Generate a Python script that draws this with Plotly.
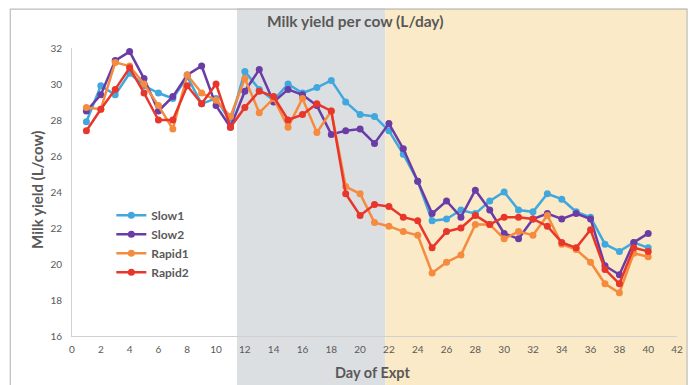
import plotly.graph_objects as go

days = list(range(1, 41))

slow1 = [27.9, 29.9, 29.4, 30.6, 29.9, 29.5, 29.2, 30.4, 28.9, 29.2,
         27.9, 30.7, 29.7, 29.1, 30.0, 29.5, 29.8, 30.2, 29.0, 28.3,
         28.2, 27.4, 26.1, 24.6, 22.4, 22.5, 23.0, 22.8, 23.5, 24.0,
         23.0, 22.9, 23.9, 23.6, 22.9, 22.6, 21.1, 20.7, 21.2, 20.9]
slow2 = [28.5, 29.4, 31.3, 31.8, 30.3, 28.5, 29.3, 30.5, 31.0, 28.8,
         27.6, 29.6, 30.8, 29.0, 29.7, 29.4, 28.8, 27.2, 27.4, 27.5,
         26.7, 27.8, 26.4, 24.6, 22.8, 23.5, 22.6, 24.1, 23.0, 21.7,
         21.4, 22.5, 22.8, 22.5, 22.8, 22.5, 19.9, 19.4, 21.2, 21.7]
rapid1 = [28.7, 28.6, 31.2, 31.0, 30.0, 28.8, 27.5, 30.5, 29.5, 29.1,
          28.2, 30.3, 28.4, 29.2, 27.6, 29.2, 27.3, 28.5, 24.3, 23.9,
          22.3, 22.1, 21.8, 21.6, 19.5, 20.1, 20.5, 22.2, 22.2, 21.4,
          21.8, 21.6, 22.7, 21.1, 20.8, 20.1, 18.9, 18.4, 20.6, 20.4]
rapid2 = [27.4, 28.6, 29.7, 30.9, 29.5, 28.0, 28.0, 29.9, 28.9, 30.0,
          27.6, 28.7, 29.6, 29.3, 28.0, 28.3, 28.9, 28.5, 23.9, 22.7,
          23.3, 23.2, 22.6, 22.4, 20.9, 21.8, 22.0, 22.7, 22.2, 22.6,
          22.6, 22.5, 22.1, 21.2, 20.9, 21.9, 19.7, 18.9, 20.9, 20.7]

series_names = ["Slow1", "Slow2", "Rapid1", "Rapid2"]
series_values = [slow1, slow2, rapid1, rapid2]
colors = ["#41A8DE", "#6A3DA6", "#F58B3E", "#E8362B"]

x_ticks = list(range(0, 43, 2))
y_ticks = list(range(16, 33, 2))
X_MIN, X_MAX = 0, 42
Y_MIN, Y_MAX = 16, 32

# phase bands (in days)
GRAY_START, GRAY_END = 11.45, 21.75
ORANGE_END = 42.7

def to_paper(v):
    return (v - X_MIN) / (X_MAX - X_MIN)

fig = go.Figure()
for name, vals, c in zip(series_names, series_values, colors):
    fig.add_trace(go.Scatter(
        x=days, y=vals, name=name, mode="lines+markers",
        line=dict(color=c, width=2.5),
        marker=dict(color=c, size=7),
    ))

font_fam = "Lato, 'Open Sans', sans-serif"
txt = "#595959"

# page body has an 8px default margin; figure sized to fit the 697x385 window
W, H = 689, 377
L, R, T, B = 64, 20, 40, 49

fig.update_layout(
    width=W, height=H,
    margin=dict(l=L, r=R, t=T, b=B, autoexpand=False),
    paper_bgcolor="white", plot_bgcolor="rgba(0,0,0,0)",
    font=dict(family=font_fam, color=txt, size=10),
    showlegend=True,
    legend=dict(x=0.065, y=0.47, xanchor="left", yanchor="top",
                bgcolor="rgba(0,0,0,0)", font=dict(size=12, color=txt,
                family=font_fam, weight="bold"),
                itemwidth=30, tracegroupgap=0),
    title=dict(text="<b>Milk yield per cow (L/day)</b>", x=0.504, xref="container",
               y=0.963, yref="container", xanchor="center", yanchor="middle",
               font=dict(size=15.5, color=txt, family=font_fam)),
    xaxis=dict(range=[X_MIN, X_MAX], tickvals=x_ticks, ticktext=[str(v) for v in x_ticks],
               showgrid=False, zeroline=False, showline=True, linecolor="#D0D0D0",
               linewidth=1, ticks="", tickfont=dict(size=10, color=txt),
               ticklabelstandoff=4),
    yaxis=dict(range=[Y_MIN, Y_MAX], tickvals=y_ticks, ticktext=[str(v) for v in y_ticks],
               showgrid=False, zeroline=False, showline=True, linecolor="#D0D0D0",
               linewidth=1, ticks="", tickfont=dict(size=10, color=txt),
               ticklabelstandoff=7),
    shapes=[
        dict(type="rect", xref="paper", yref="paper", layer="below",
             x0=to_paper(GRAY_START), x1=to_paper(GRAY_END), y0=-0.2, y1=1.2,
             fillcolor="#DCDFE2", line=dict(width=0)),
        dict(type="rect", xref="paper", yref="paper", layer="below",
             x0=to_paper(GRAY_END), x1=to_paper(ORANGE_END), y0=-0.2, y1=1.2,
             fillcolor="#FBEAC7", line=dict(width=0)),
        dict(type="rect", xref="paper", yref="paper", layer="below",
             x0=-0.102, x1=to_paper(ORANGE_END), y0=-0.25, y1=1.135,
             fillcolor="rgba(0,0,0,0)", line=dict(width=1.2, color="#BDBDBD")),
    ],
    annotations=[
        dict(text="<b>Milk yield (L/cow)</b>", xref="paper", yref="paper",
             x=-0.058, y=0.507, textangle=-90, showarrow=False,
             font=dict(size=15, color=txt, family=font_fam),
             xanchor="center", yanchor="middle"),
        dict(text="<b>Day of Expt</b>", xref="paper", yref="paper",
             x=0.496, y=-0.125, showarrow=False,
             font=dict(size=14.5, color=txt, family=font_fam),
             xanchor="center", yanchor="middle"),
    ],
)

fig.write_html("out.html")
